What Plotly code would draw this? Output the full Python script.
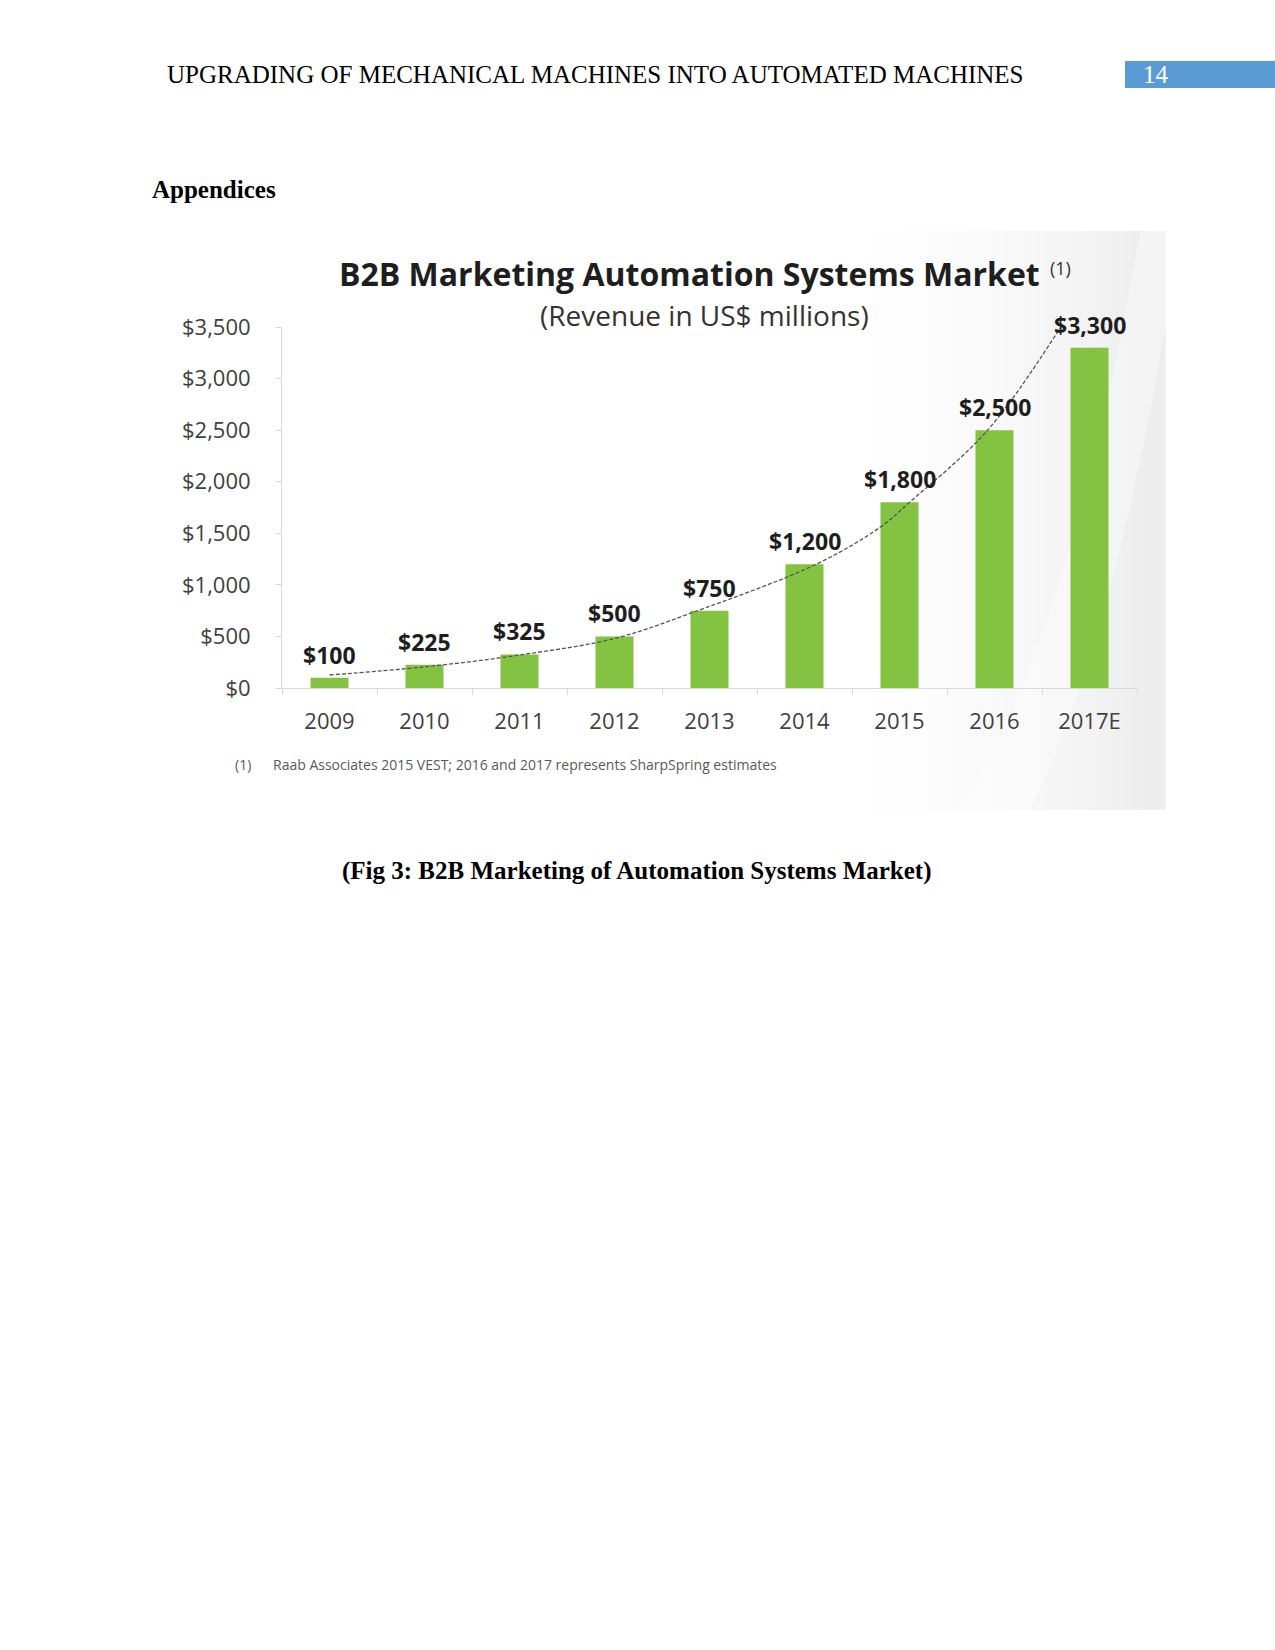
import plotly.graph_objects as go

# ---------------- data ----------------
years = ["2009", "2010", "2011", "2012", "2013", "2014", "2015", "2016", "2017E"]
revenue = [100, 225, 325, 500, 750, 1200, 1800, 2500, 3300]
value_labels = ["$100", "$225", "$325", "$500", "$750", "$1,200", "$1,800", "$2,500", "$3,300"]
y_ticks = [0, 500, 1000, 1500, 2000, 2500, 3000, 3500]
y_tick_labels = ["$0", "$500", "$1,000", "$1,500", "$2,000", "$2,500", "$3,000", "$3,500"]
# dashed trend curve (category index, value)
trend_x = [0.0, 1.0, 2.0, 3.0, 3.81, 5.13, 5.8, 6.11, 6.93, 7.69]
trend_y = [126, 205, 320, 480, 728, 1203, 1561, 1804, 2502, 3490]

W, H = 1275, 1650
def px(x):
    return x / W
def py(y):
    return 1 - y / H

SANS = "Open Sans"
SERIF = "Liberation Serif"
x_idx = list(range(len(years)))

fig = go.Figure()
fig.add_trace(go.Bar(
    x=x_idx, y=revenue, width=0.4,
    marker=dict(color="#84c242", line=dict(width=0)),
    hoverinfo="skip", showlegend=False,
))
fig.add_trace(go.Scatter(
    x=trend_x, y=trend_y, mode="lines",
    line=dict(color="#555555", width=1.3, dash="4px,2px", shape="spline", smoothing=1.0),
    hoverinfo="skip", showlegend=False,
))

annotations = []
for i, (v, lab) in enumerate(zip(revenue, value_labels)):
    annotations.append(dict(
        x=i, y=v, xref="x", yref="y", text=lab, showarrow=False,
        yanchor="middle", xanchor="center", yshift=23,
        font=dict(family=SANS, size=23, color="#1e1e1e", weight="bold"),
    ))

def txt(x, y, s, size, family, color="#000000", xanchor="left", bold=False):
    annotations.append(dict(
        x=px(x), y=py(y), xref="paper", yref="paper", text=s, showarrow=False,
        xanchor=xanchor, yanchor="middle",
        font=dict(family=family, size=size, color=color, weight="bold" if bold else "normal"),
    ))

# page texts
txt(165, 75, "UPGRADING OF MECHANICAL MACHINES INTO AUTOMATED MACHINES", 25, SERIF)
txt(1141, 75, "14", 25, SERIF, color="#ffffff")
txt(150, 190, "Appendices", 25, SERIF, bold=True)
txt(637, 871, "(Fig 3: B2B Marketing of Automation Systems Market)", 25, SERIF, bold=True, xanchor="center")
# chart texts
txt(337, 273, "B2B Marketing Automation Systems Market", 32, SANS, color="#1e1e1e", bold=True)
txt(1048, 268, "(1)", 18, SANS, color="#333333")
txt(704, 315, "(Revenue in US$ millions)", 28, SANS, color="#333333", xanchor="center")
txt(233, 764, "(1)", 14, SANS, color="#595959")
txt(271, 764, "Raab Associates 2015 VEST; 2016 and 2017 represents SharpSpring estimates", 14, SANS, color="#595959")

shapes = []
# page-number box
shapes.append(dict(type="rect", xref="paper", yref="paper",
                   x0=px(1125), x1=px(1275), y0=py(88), y1=py(61),
                   fillcolor="#5b9bd5", line=dict(width=0), layer="below"))
# light grey gradient on the right side of the chart picture
n = 30
x_start, x_end = 840, 1165
for k in range(n):
    t = (k + 0.5) / n
    g = int(round(255 - 19 * t ** 1.6))
    xa = x_start + (x_end - x_start) * k / n
    xb = x_start + (x_end - x_start) * (k + 1) / n + 0.6
    shapes.append(dict(type="rect", xref="paper", yref="paper",
                       x0=px(xa), x1=px(xb), y0=py(810), y1=py(231),
                       fillcolor=f"rgb({g},{g},{g})", line=dict(width=0), layer="below"))
# lighter swoosh
shapes.append(dict(type="path", xref="paper", yref="paper",
                   path=(f"M {px(960)},{py(810)} Q {px(1070)},{py(640)} {px(1140)},{py(231)} "
                         f"L {px(1165)},{py(231)} L {px(1165)},{py(330)} "
                         f"Q {px(1110)},{py(650)} {px(1030)},{py(810)} Z"),
                   fillcolor="rgba(255,255,255,0.35)", line=dict(width=0), layer="below"))
# white box behind footnote
shapes.append(dict(type="rect", xref="paper", yref="paper",
                   x0=px(215), x1=px(832), y0=py(782), y1=py(746),
                   fillcolor="#ffffff", line=dict(width=0), layer="below"))

fig.update_layout(
    width=W, height=H, autosize=False,
    margin=dict(l=0, r=0, t=0, b=0, pad=0, autoexpand=False),
    paper_bgcolor="#ffffff", plot_bgcolor="rgba(0,0,0,0)",
    showlegend=False, bargap=0.6,
    annotations=annotations, shapes=shapes,
    xaxis=dict(
        domain=[px(282), px(1137)], range=[-0.5, 8.5], automargin=False,
        tickmode="array", tickvals=x_idx, ticktext=years, ticks="",
        tickfont=dict(family=SANS, size=22, color="#404040"),
        ticklabelstandoff=14,
        showline=True, linecolor="#d9d9d9", linewidth=1,
        showgrid=False, zeroline=False, fixedrange=True,
        minor=dict(tickmode="array", tickvals=[i - 0.5 for i in range(len(years) + 1)],
                   ticks="outside", ticklen=6, tickcolor="#d9d9d9", tickwidth=1, showgrid=False),
    ),
    yaxis=dict(
        domain=[py(688), py(327)], range=[0, 3500], automargin=False,
        tickmode="array", tickvals=y_ticks, ticktext=y_tick_labels,
        ticks="outside", ticklen=6, tickcolor="#d9d9d9",
        tickfont=dict(family=SANS, size=22, color="#404040"),
        ticklabelstandoff=20,
        showline=True, linecolor="#d9d9d9", linewidth=1,
        showgrid=False, zeroline=False, fixedrange=True,
    ),
)

fig.write_html("out.html")
